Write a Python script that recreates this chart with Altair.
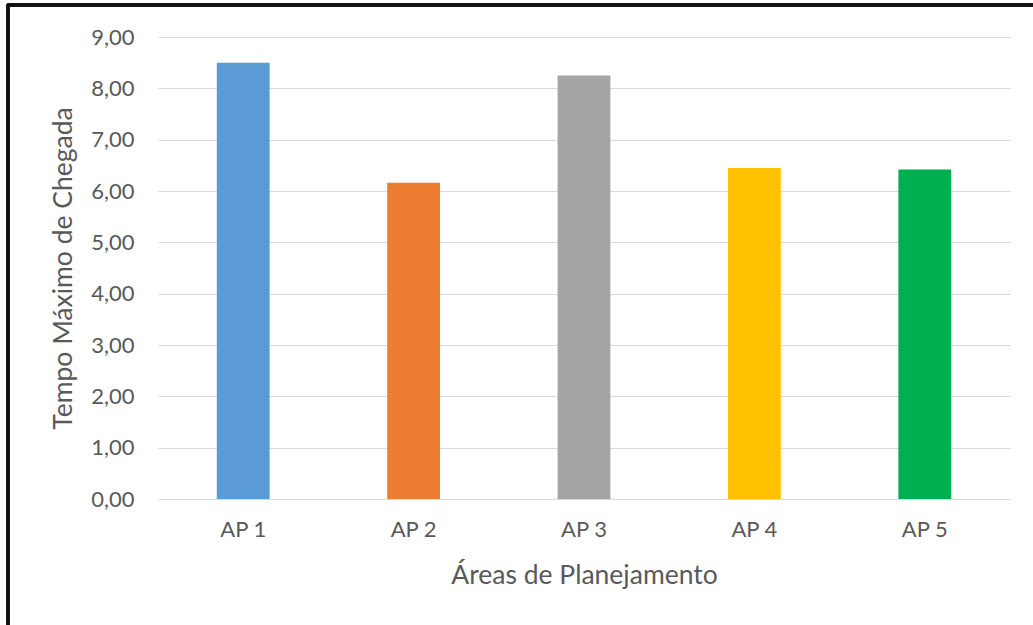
import altair as alt
import pandas as pd

# Planning areas and their maximum arrival time
areas = ["AP 1", "AP 2", "AP 3", "AP 4", "AP 5"]
tempo_max = [8.50, 6.16, 8.25, 6.45, 6.42]
bar_colors = ["#5B9BD5", "#ED7D31", "#A5A5A5", "#FFC000", "#00B050"]

df = pd.DataFrame({"area": areas, "tempo": tempo_max})

PLOT_W, PLOT_H = 852, 462
PAD_L, PAD_T = 158, 37
TXT = "#595959"
FONT = "Lato"

bars = alt.Chart(df).mark_bar().encode(
    x=alt.X(
        "area:N",
        sort=areas,
        scale=alt.Scale(paddingInner=0.69, paddingOuter=0.345),
        axis=alt.Axis(
            title="Áreas de Planejamento",
            labelAngle=0,
            labelPadding=20,
            labelFontSize=22,
            labelColor=TXT,
            labelFont=FONT,
            ticks=False,
            domain=False,
            titleFont=FONT,
            titleFontSize=26.5,
            titleFontWeight="normal",
            titleColor=TXT,
            titleX=PLOT_W / 2,
            titleY=76,
            titleBaseline="middle",
        ),
    ),
    y=alt.Y(
        "tempo:Q",
        scale=alt.Scale(domain=[0, 9]),
        axis=alt.Axis(
            title="Tempo Máximo de Chegada",
            values=list(range(10)),
            labelExpr="replace(format(datum.value, '.2f'), '.', ',')",
            labelPadding=24,
            labelFontSize=22,
            labelColor=TXT,
            labelFont=FONT,
            ticks=False,
            domain=False,
            grid=True,
            gridColor="#D9D9D9",
            gridWidth=1,
            titleFont=FONT,
            titleFontSize=26.5,
            titleFontWeight="normal",
            titleColor=TXT,
            titleAngle=-90,
            titleX=-95,
            titleY=PLOT_H / 2,
            titleAlign="center",
            titleBaseline="middle",
        ),
    ),
    color=alt.Color(
        "area:N",
        sort=areas,
        scale=alt.Scale(domain=areas, range=bar_colors),
        legend=None,
    ),
)

# Frame lines along the top and left edges of the figure
frame_top = alt.Chart(df).mark_rule(color="#111111", strokeWidth=3).encode(
    x=alt.value(-PAD_L + 7), x2=alt.value(1033 - PAD_L), y=alt.value(-PAD_T + 5)
)
frame_left = alt.Chart(df).mark_rule(color="#111111", strokeWidth=3).encode(
    x=alt.value(-PAD_L + 8), y=alt.value(-PAD_T + 4), y2=alt.value(625 - PAD_T)
)

chart = (
    alt.layer(bars, frame_top, frame_left)
    .properties(
        width=PLOT_W,
        height=PLOT_H,
        autosize=alt.AutoSizeParams(type="none"),
        padding={"left": PAD_L, "top": PAD_T, "right": 1033 - PAD_L - PLOT_W, "bottom": 625 - PAD_T - PLOT_H},
        background="white",
    )
    .configure_view(stroke=None)
)

chart.save("out.html", embed_options={"renderer": "svg", "actions": False})
